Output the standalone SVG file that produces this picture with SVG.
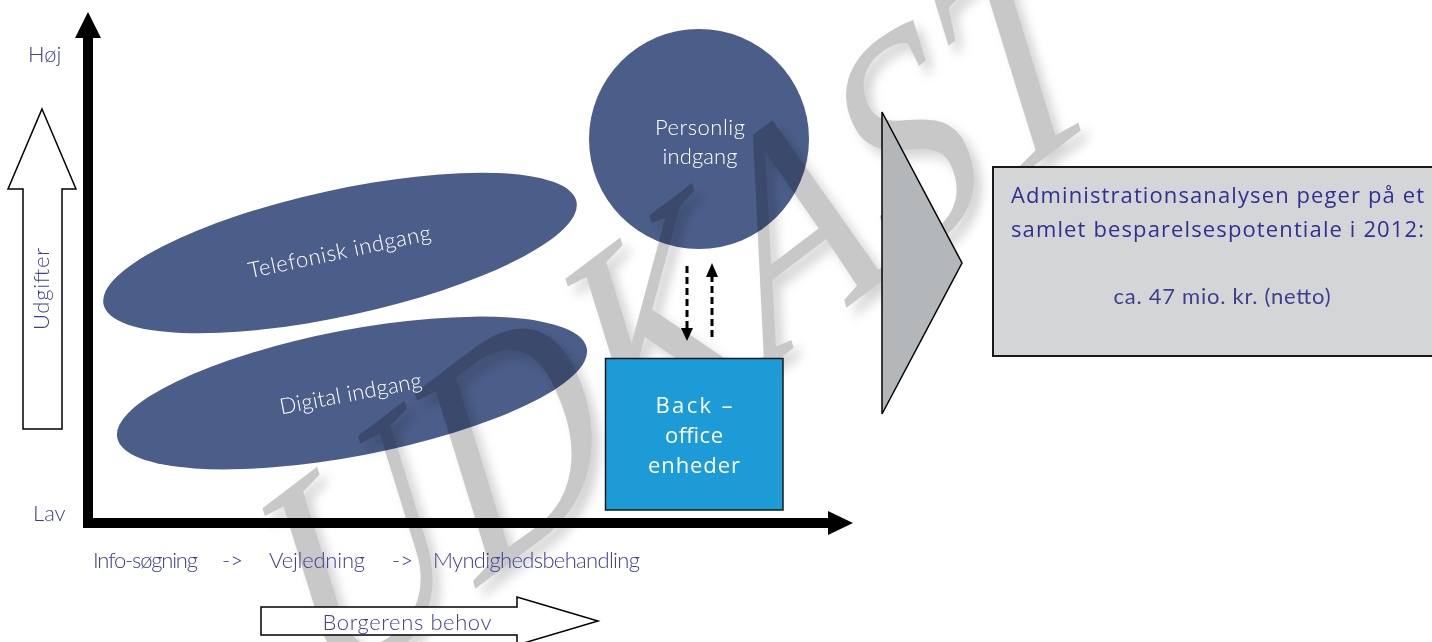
<svg xmlns="http://www.w3.org/2000/svg" width="1432" height="642" viewBox="0 0 1432 642">
<defs>
<style>
.lbl{font-family:Lato,"Liberation Sans",sans-serif;font-weight:300;font-size:22px;fill:#3d3f8e}
.wt{font-family:Lato,"Liberation Sans",sans-serif;font-weight:300;font-size:22px;fill:#ffffff}
.my{font-family:"Open Sans","Noto Sans","Liberation Sans",sans-serif;font-size:22px}
.blob{fill:#4b5e8a;mix-blend-mode:multiply}
.wm{font-family:"Liberation Serif","DejaVu Serif",serif;font-style:italic;font-size:250px}
.outline{fill:#fff;stroke:#000;stroke-width:1.5;stroke-linejoin:miter}
.dash{stroke:#000;stroke-width:3;stroke-dasharray:7 4;fill:none}
.axis{stroke:#000;stroke-width:10;fill:none}
</style>
<filter id="blur" x="-20%" y="-20%" width="140%" height="140%"><feGaussianBlur stdDeviation="5"/></filter>
</defs>
<rect width="1432" height="642" fill="#fff"/>
<g id="watermark">
<text class="wm" transform="matrix(0.835,-0.632,0.517,1.085,335,709)" fill="#d4d4d4" filter="url(#blur)">UDKAST</text>
<text class="wm" transform="matrix(0.835,-0.632,0.517,1.085,327,701)" fill="#c8c8c8">UDKAST</text>
</g>
<g id="axes">
<line class="axis" x1="88" y1="36" x2="88" y2="528"/>
<line class="axis" x1="83" y1="523" x2="830" y2="523"/>
<polygon points="88,12 101,38 75,38" fill="#000"/>
<polygon points="853,523 828,511 828,535" fill="#000"/>
</g>
<g id="axis-labels">
<text class="lbl" x="28" y="62">Høj</text>
<text class="lbl" x="33" y="521">Lav</text>
<polygon class="outline" points="42,109 76,189 62,189 62,429 23,429 23,189 8,189"/>
<text class="lbl" x="49" y="289" text-anchor="middle" textLength="82" transform="rotate(-90 49 289)">Udgifter</text>
<text class="lbl" x="93" y="568" textLength="105">Info-søgning</text>
<text class="lbl" x="222" y="568" textLength="21">-&gt;</text>
<text class="lbl" x="269" y="568" textLength="96">Vejledning</text>
<text class="lbl" x="392" y="568" textLength="21">-&gt;</text>
<text class="lbl" x="433" y="568" textLength="207">Myndighedsbehandling</text>
<polygon class="outline" points="261,607 517,607 517,597 598,621 517,645 517,635 261,635"/>
<text class="lbl" x="407" y="630" text-anchor="middle" textLength="169">Borgerens behov</text>
</g>
<g id="telefonisk">
<ellipse class="blob" cx="340" cy="253" rx="242" ry="63" transform="rotate(-12.3 340 253)"/>
<text class="wt" x="341" y="259" text-anchor="middle" textLength="186" transform="rotate(-12 341 259)">Telefonisk indgang</text>
</g>
<g id="digital">
<ellipse class="blob" cx="352" cy="393" rx="239" ry="63" transform="rotate(-10.8 352 393)"/>
<text class="wt" x="352" y="401" text-anchor="middle" textLength="144" transform="rotate(-10.8 352 401)">Digital indgang</text>
</g>
<g id="personlig">
<circle class="blob" cx="699" cy="139" r="110"/>
<text class="wt" x="700" y="135" text-anchor="middle" textLength="90">Personlig</text>
<text class="wt" x="700" y="164" text-anchor="middle" textLength="75">indgang</text>
</g>
<g id="backoffice">
<rect x="605.5" y="358.5" width="177.5" height="151.5" fill="#1c9bd7" stroke="#1a1a1a" stroke-width="1.5"/>
<text class="my" x="694" y="413" text-anchor="middle" fill="#fff" textLength="77">Back –</text>
<text class="my" x="694" y="443" text-anchor="middle" fill="#fff" textLength="58">office</text>
<text class="my" x="694" y="473" text-anchor="middle" fill="#fff" textLength="92">enheder</text>
</g>
<g id="connectors">
<line class="dash" x1="687" y1="266" x2="687" y2="329"/>
<polygon points="681,328 693,328 687,341" fill="#000"/>
<line class="dash" x1="712" y1="337" x2="712" y2="276"/>
<polygon points="706,277 718,277 712,263" fill="#000"/>
</g>
<g id="chevron">
<polygon points="882,112 962,263 882,414" fill="#b4b7ba" stroke="#000" stroke-width="1.5"/>
</g>
<g id="result">
<rect x="993" y="167" width="460" height="189" fill="#d4d5d7" stroke="#1a1a1a" stroke-width="2"/>
<text class="my" x="1011" y="203" fill="#2e3192" textLength="413">Administrationsanalysen peger på et</text>
<text class="my" x="1011" y="237" fill="#2e3192" textLength="413">samlet besparelsespotentiale i 2012:</text>
<text class="lbl" x="1222" y="304" text-anchor="middle" fill="#2e3192" textLength="217" style="font-weight:400">ca. 47 mio. kr. (netto)</text>
</g>
</svg>
